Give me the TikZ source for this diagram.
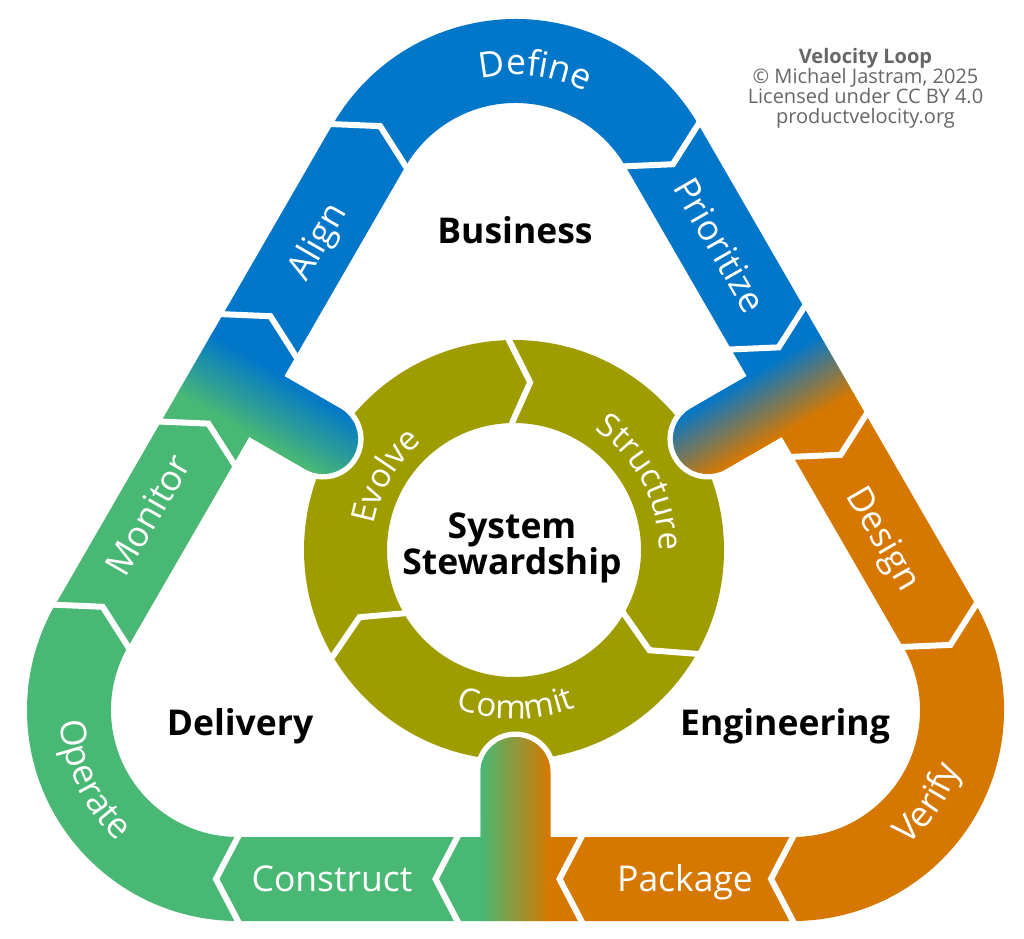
\documentclass[tikz,border=0pt]{standalone}
\usepackage{fontspec}
\setmainfont{Open Sans}
\usetikzlibrary{decorations.text}

\definecolor{VLblue}{HTML}{0277C9}
\definecolor{VLgreen}{HTML}{49B874}
\definecolor{VLorange}{HTML}{D67800}
\definecolor{VLolive}{HTML}{9F9C00}
\definecolor{VLgray}{HTML}{666666}

\tikzset{VLgap/.style={white,line width=6pt},
         VLhalo/.style={white,line width=11pt},
         VLlab/.style={text=white,font=\fontsize{35.5}{35.5}\selectfont,inner sep=0pt,text height=25.5pt,text depth=0pt},
         VLhead/.style={font=\fontsize{35.5}{35}\selectfont\bfseries,inner sep=0pt,align=center},
         VLcurve/.style 2 args={decorate,decoration={text along path,text align=center,text color=white,
                         text={|\fontsize{#1}{#1}\selectfont|#2}}}}

\begin{document}
\begin{tikzpicture}[x=1pt,y=1pt]
  \useasboundingbox (0,0) rectangle (1024,-938);
  \coordinate (top) at (515.5,-230);
  \coordinate (bl) at (238,-710);
  \coordinate (br) at (793,-710);
  \coordinate (ring) at (514,-550);
  \coordinate (mr) at (800.6,-385.5);
  \coordinate (mb) at (515.5,-879);
  \coordinate (ml) at (230.4,-385.5);
  % inner ring with three chevron cuts
  \fill[VLolive,even odd rule] (ring) circle[radius=210] (ring) circle[radius=127];
  \begin{scope}[shift={(ring)}]
    \foreach \a in {92,-29,211} \draw[VLgap] (\a:215) -- (\a-7.5:168.5) -- (\a:122);
  \end{scope}
  % corner arcs
  \foreach \c/\a/\col in {top/150/VLblue, br/30/VLorange, bl/-90/VLgreen}{
    \begin{scope}[shift={(\c)}]
      \fill[\col] (\a:211) arc[start angle=\a,end angle=\a-120,radius=211]
        -- (\a-127.5:169) -- (\a-120:127) arc[start angle=\a-120,end angle=\a,radius=127]
        -- (\a-7.5:169) -- cycle;
    \end{scope}}
  % straight sides, each with its T-piece towards the ring
  \foreach \m/\r/\ca/\cb in {mr/-60/VLblue/VLorange, mb/180/VLorange/VLgreen, ml/60/VLgreen/VLblue}{
    \begin{scope}[shift={(\m)},rotate=\r]
      \draw[VLhalo] (35,-60) -- (35,-107) arc[start angle=0,end angle=-180,radius=35] -- (-35,-60);
      \fill[\ca] (-277.5,42) -- (-66,42) -- (-44,0) -- (-66,-42) -- (-277.5,-42) -- (-255.5,0) -- cycle;
      \fill[\cb] (58,42) -- (277.5,42) -- (299.5,0) -- (277.5,-42) -- (58,-42) -- (80,0) -- cycle;
      \begin{scope}
        \clip (-66,42) -- (58,42) -- (80,0) -- (58,-42) -- (35,-42) -- (35,-107)
          arc[start angle=0,end angle=-180,radius=35] -- (-35,-42) -- (-66,-42) -- (-44,0) -- cycle;
        \fill[\ca] (-80,-150) rectangle (-34,50);
        \fill[\cb] (34,-150) rectangle (90,50);
        \foreach \i in {0,...,34}{
          \pgfmathtruncatemacro\p{\i*100/34}
          \fill[\cb!\p!\ca] (-35+2*\i,-150) rectangle ++(2.4,200);}
      \end{scope}
      \foreach \x in {-277.5,-66,58,277.5}
        \draw[VLgap] (\x-2,46) -- (\x+22,0) -- (\x-2,-46);
    \end{scope}}
  % curved labels
  \path[VLcurve={35.5}{Define}] (top) ++(123:155) arc[start angle=123,end angle=43,radius=155];
  \path[VLcurve={35.5}{Verify}] (br) ++(-64.6:177) arc[start angle=-64.6,end angle=-4.6,radius=177];
  \path[VLcurve={35.5}{Operate}] (bl) ++(175.6:178) arc[start angle=175.6,end angle=235.6,radius=178];
  \path[VLcurve={33}{Evolve}] (ring) ++(190:142) arc[start angle=190,end angle=110,radius=142];
  \path[VLcurve={33}{Structure}] (ring) ++(68:145) arc[start angle=68,end angle=-12,radius=145];
  \path[VLcurve={33}{Commit}] (ring) ++(240.5:169) arc[start angle=240.5,end angle=300.5,radius=169];
  % straight labels
  \node[VLlab,rotate=60] (align) at (316,-241) {Align};
  \node[VLlab,rotate=60] (monitor) at (148,-515) {Monitor};
  \node[VLlab,rotate=-60] (prioritize) at (720,-245) {Prioritize};
  \node[VLlab,rotate=-60] (design) at (885,-538) {Design};
  \node[VLlab] (package) at (685,-879) {Package};
  \node[VLlab] (construct) at (332,-879) {Construct};
  % headings
  \node[VLhead,anchor=base] (business) at (515,-243) {Business};
  \node[VLhead,anchor=base] (delivery) at (240,-735) {Delivery};
  \node[VLhead,anchor=base] (engineering) at (785,-735) {Engineering};
  \node[VLhead] (steward) at (512,-548) {System\\Stewardship};
  \node[font=\fontsize{20}{20}\selectfont,text=VLgray,align=center] (credit) at (865.5,-88)
    {\textbf{Velocity Loop}\\© Michael Jastram, 2025\\Licensed under CC BY 4.0\\productvelocity.org};
\end{tikzpicture}
\end{document}
